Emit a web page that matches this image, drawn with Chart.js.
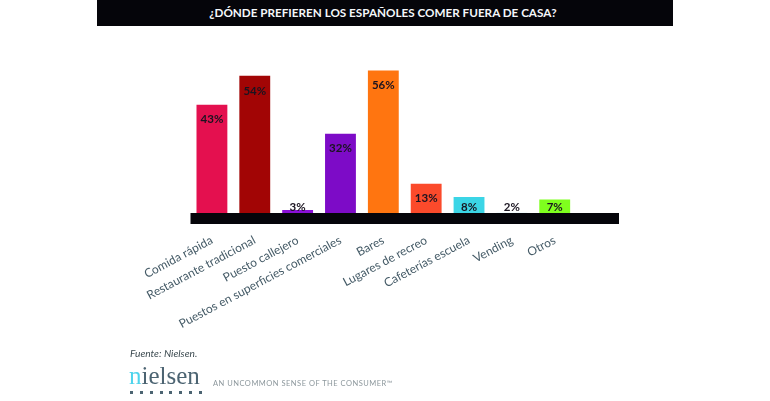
<!DOCTYPE html>
<html>
<head>
<meta charset="utf-8">
<script src="https://cdn.jsdelivr.net/npm/chart.js@4"></script>
<style>
  html, body { margin: 0; background: #fff; overflow: hidden; }
  #wrap { position: relative; width: 770px; height: 401px; font-family: Lato, sans-serif; }
  canvas { position: absolute; left: 0; top: 0; }
  .txt { position: absolute; white-space: nowrap; }
  #head { left: 97px; top: 0; width: 572px; padding-right: 4px; height: 26px; line-height: 24px; background: #05050a; color: #f4f7fa; font-weight: bold; font-size: 11.7px; text-align: center; }
  #source { left: 130px; top: 347px; font-style: italic; font-size: 10.2px; color: #3c4a50; }
  #logo { left: 129px; top: 362px; font-family: "Liberation Serif", serif; font-size: 25px; color: #4c6472; }
  #logo span { color: #4fd4ec; }
  #dots { position: absolute; left: 130px; top: 391px; width: 72px; height: 3px; background: repeating-linear-gradient(90deg, #4c6472 0 3px, transparent 3px 9.85px); }
  #tag { left: 213px; top: 379px; font-size: 7.5px; letter-spacing: 0.5px; color: #8c979c; }
</style>
</head>
<body>
<div id="wrap">
  <canvas id="chart" width="770" height="401"></canvas>
  <div class="txt" id="head">¿DÓNDE PREFIEREN LOS ESPAÑOLES COMER FUERA DE CASA?</div>
  <div class="txt" id="source">Fuente: Nielsen.</div>
  <div class="txt" id="logo"><span>n</span>ielsen</div>
  <div id="dots"></div>
  <div class="txt" id="tag">AN UNCOMMON SENSE OF THE CONSUMER™</div>
</div>
<script>
// last slot is empty, the black band runs on past "Otros"
const categories = ['Comida rápida', 'Restaurante tradicional', 'Puesto callejero', 'Puestos en superficies comerciales', 'Bares', 'Lugares de recreo', 'Cafeterías escuela', 'Vending', 'Otros', ''];
const values = [43, 54, 3, 32, 56, 13, 8, 2, 7, null];
const barColors = ['#e4104f', '#a20505', '#8a10d8', '#7d0bc7', '#ff7510', '#fb4a2b', '#3bd5e6', '#cfeef5', '#7fff1e', '#fff'];

// black band sits over the zero line, % labels on top of it
const extras = {
    id: 'extras',
    afterDatasetsDraw(chart) {
        const { ctx, scales } = chart;
        const base = scales.y.getPixelForValue(0);
        ctx.save();
        ctx.fillStyle = '#05050a';
        ctx.fillRect(scales.x.left, base - 5, scales.x.width, 11);
        ctx.fillStyle = '#1a1420';
        ctx.font = 'bold 11.5px Lato, sans-serif';
        ctx.textAlign = 'center';
        ctx.textBaseline = 'middle';
        chart.getDatasetMeta(0).data.forEach(function (bar, i) {
            if (values[i] === null) return;
            ctx.fillText(values[i] + '%', bar.x, Math.min(bar.y + 15, base - 11));
        });
        ctx.restore();
    }
};

new Chart(document.getElementById('chart').getContext('2d'), {
    type: 'bar',
    data: {
        labels: categories,
        datasets: [{
            data: values,
            backgroundColor: barColors,
            barPercentage: 0.72,
            categoryPercentage: 1
        }]
    },
    options: {
        responsive: false,
        animation: false,
        layout: { padding: { left: 190.5, right: 151, top: 60, bottom: 0 } },
        plugins: { legend: { display: false }, title: { display: false }, tooltip: { enabled: false } },
        scales: {
            x: {
                afterFit(scale) { scale.height = 183; },
                grid: { display: false },
                border: { display: false },
                ticks: {
                    autoSkip: false,
                    minRotation: 28,
                    maxRotation: 28,
                    padding: 7,
                    color: '#445a66',
                    font: { family: 'Lato, sans-serif', size: 12 }
                }
            },
            y: { display: false, min: 0, max: 60 }
        }
    },
    plugins: [extras]
});
</script>
</body>
</html>
